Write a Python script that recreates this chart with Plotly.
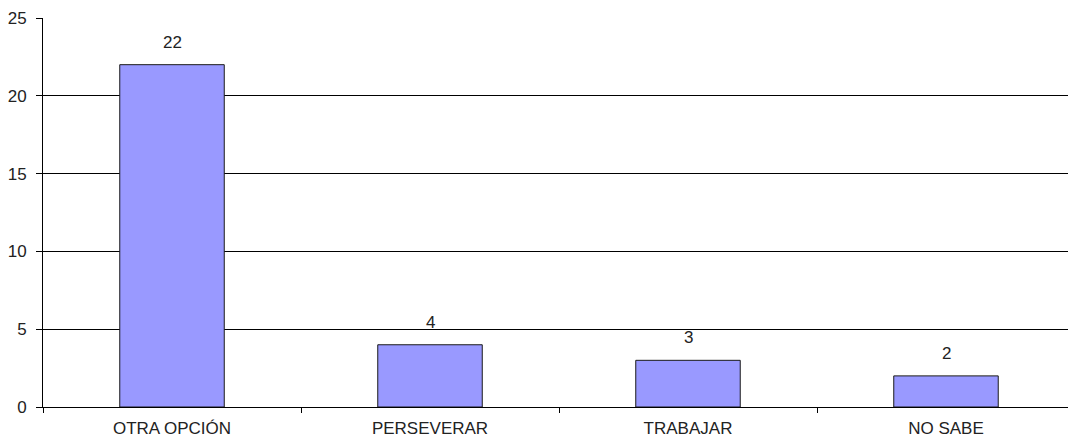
import plotly.graph_objects as go

categories = ["OTRA OPCIÓN", "PERSEVERAR", "TRABAJAR", "NO SABE"]
values = [22, 4, 3, 2]
y_ticks = [0, 5, 10, 15, 20, 25]

font_family = "Liberation Sans, Arial, sans-serif"
fs = 17

fig = go.Figure()
fig.add_trace(go.Bar(
    x=categories, y=values,
    marker=dict(color="#9999FF", line=dict(color="#1a1a1a", width=1)),
    width=0.405,
    hoverinfo="x+y",
))

for c, v in zip(categories, values):
    fig.add_annotation(x=c, y=v, text=str(v), showarrow=False,
                       yanchor="bottom", yshift=11,
                       font=dict(family=font_family, size=fs, color="#222"))

# page body has an 8px margin, so the figure is sized to fit the 1076x437 window
fig.update_layout(
    width=1068, height=429,
    margin=dict(l=35, r=1, t=10, b=30, autoexpand=False),
    plot_bgcolor="white", paper_bgcolor="white",
    showlegend=False,
    font=dict(family=font_family, size=fs, color="#222"),
)
fig.update_xaxes(
    showline=True, linecolor="black", linewidth=1,
    ticks="outside", tickson="boundaries", ticklen=5, tickcolor="black",
    showgrid=False, tickfont=dict(size=fs), automargin=False,
    ticklabelstandoff=6,
)
fig.update_yaxes(
    range=[0, 25], tickvals=y_ticks,
    showline=True, linecolor="black", linewidth=1,
    ticks="outside", ticklen=6, tickcolor="black",
    showgrid=True, gridcolor="black", gridwidth=1,
    zeroline=True, zerolinecolor="black", zerolinewidth=1,
    tickfont=dict(size=fs), automargin=False,
    ticklabelstandoff=6,
)

fig.write_html("out.html")
